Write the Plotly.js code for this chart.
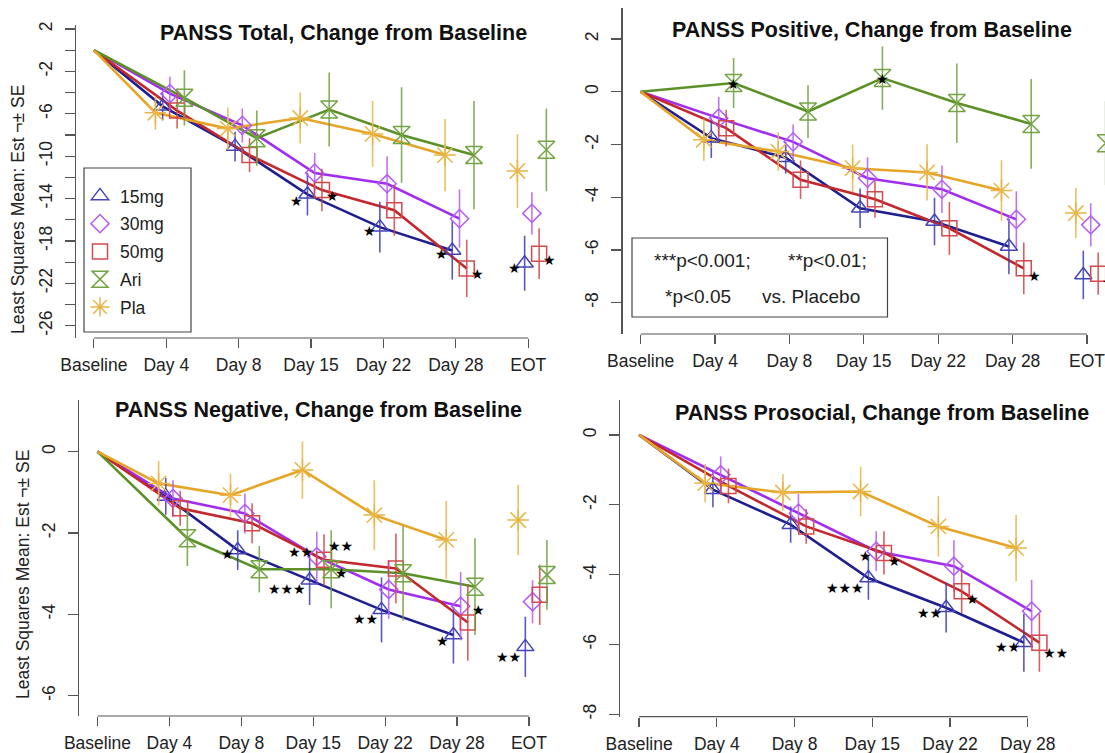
<!DOCTYPE html>
<html><head><meta charset="utf-8">
<script src="https://cdn.plot.ly/plotly-3.0.1.min.js"></script>
<style>html,body{margin:0;padding:0;background:#fff;overflow:hidden}#wrap{width:1105px;height:753px;overflow:hidden;position:relative}#chart{width:1140px;height:753px}</style>
</head><body><div id="wrap"><div id="chart"></div></div>
<script>
// ---------------- DATA ----------------
const categories = ['Baseline', 'Day 4', 'Day 8', 'Day 15', 'Day 22', 'Day 28', 'EOT'];
const categoriesProsocial = ['Baseline', 'Day 4', 'Day 8', 'Day 15', 'Day 22', 'Day 28'];
const seriesNames = ['15mg', '30mg', '50mg', 'Ari', 'Pla'];

// PANSS Total (Baseline, Day 4, 8, 15, 22, 28, EOT); SE for post-baseline visits
const total_15mg = [0, -5.3, -9.1, -13.6, -16.7, -18.9, -20.1];
const total_15mg_se = [1.3, 1.4, 2.0, 2.4, 2.75, 2.6];
const total_30mg = [0, -4.1, -7.1, -11.6, -12.6, -15.9, -15.4];
const total_30mg_se = [1.6, 1.6, 1.9, 2.6, 2.75, 2.0];
const total_50mg = [0, -5.7, -9.9, -13.2, -15.1, -20.6, -19.2];
const total_50mg_se = [1.7, 1.6, 2.0, 2.4, 2.7, 2.4];
const total_ari = [0, -4.5, -8.3, -5.6, -8.0, -9.9, -9.4];
const total_ari_se = [2.6, 2.6, 3.5, 4.5, 5.1, 3.9];
const total_pla = [0, -5.9, -7.4, -6.4, -7.9, -9.9, -11.4];
const total_pla_se = [1.6, 2.0, 2.4, 3.1, 3.4, 3.5];

// PANSS Positive
const pos_15mg = [0, -1.76, -2.5, -4.42, -4.92, -5.87, -6.95];
const pos_15mg_se = [0.75, 0.6, 0.75, 0.9, 1.05, 0.92];
const pos_30mg = [0, -1.0, -1.9, -3.28, -3.7, -4.84, -5.05];
const pos_30mg_se = [0.8, 0.66, 0.8, 0.9, 1.07, 0.82];
const pos_50mg = [0, -1.38, -3.34, -4.08, -5.18, -6.7, -6.9];
const pos_50mg_se = [0.7, 0.73, 0.7, 1.0, 0.98, 0.8];
const pos_ari = [0, 0.33, -0.75, 0.52, -0.43, -1.22, -1.95];
const pos_ari_se = [0.95, 1.0, 1.2, 1.5, 1.7, 1.6];
const pos_pla = [0, -1.82, -2.27, -2.9, -3.06, -3.75, -4.6];
const pos_pla_se = [0.8, 0.73, 0.9, 1.07, 1.15, 0.95];

// PANSS Negative
const neg_15mg = [0, -1.1, -2.42, -3.16, -3.89, -4.51, -4.8];
const neg_15mg_se = [0.45, 0.49, 0.61, 0.8, 0.7, 0.74];
const neg_30mg = [0, -1.15, -1.52, -2.58, -3.39, -3.8, -3.69];
const neg_30mg_se = [0.45, 0.49, 0.61, 0.72, 0.84, 0.53];
const neg_50mg = [0, -1.39, -1.76, -2.66, -2.87, -4.2, -3.52];
const neg_50mg_se = [0.43, 0.49, 0.63, 0.86, 0.94, 0.74];
const neg_ari = [0, -2.13, -2.89, -2.89, -2.99, -3.32, -3.03];
const neg_ari_se = [0.68, 0.57, 0.96, 1.17, 1.19, 0.86];
const neg_pla = [0, -0.78, -1.07, -0.45, -1.56, -2.17, -1.68];
const neg_pla_se = [0.55, 0.53, 0.7, 0.86, 0.96, 0.86];

// PANSS Prosocial (no EOT, no Ari)
const pro_15mg = [0, -1.57, -2.57, -4.1, -4.95, -5.95];
const pro_15mg_se = [0.5, 0.52, 0.62, 0.71, 0.83];
const pro_30mg = [0, -1.14, -2.24, -3.33, -3.76, -5.05];
const pro_30mg_se = [0.52, 0.55, 0.57, 0.74, 0.9];
const pro_50mg = [0, -1.46, -2.62, -3.38, -4.48, -5.95];
const pro_50mg_se = [0.5, 0.5, 0.62, 0.62, 0.83];
const pro_pla = [0, -1.38, -1.65, -1.62, -2.62, -3.24];
const pro_pla_se = [0.55, 0.52, 0.71, 0.86, 0.95];

// y tick values / labels
const total_yticks = [2, 0, -2, -4, -6, -8, -10, -12, -14, -16, -18, -20, -22, -24, -26];
const total_ylabels = ['2', '', '-2', '', '-6', '', '-10', '', '-14', '', '-18', '', '-22', '', '-26'];
const pos_yticks = [2, 0, -2, -4, -6, -8];
const pos_ylabels = ['2', '0', '-2', '-4', '-6', '-8'];
const neg_yticks = [0, -2, -4, -6];
const neg_ylabels = ['0', '-2', '-4', '-6'];
const pro_yticks = [0, -2, -4, -6, -8];
const pro_ylabels = ['0', '-2', '-4', '-6', '-8'];

// significance vs placebo
const total_sig_day = ['Day 15', 'Day 15', 'Day 22', 'Day 28', 'Day 28', 'EOT', 'EOT'];
const total_sig_series = ['15mg', '50mg', '15mg', '15mg', '50mg', '15mg', '50mg'];
const total_sig_label = ['*', '*', '*', '*', '*', '*', '*'];
const pos_sig_day = ['Day 4', 'Day 15', 'Day 28', 'EOT'];
const pos_sig_series = ['Ari', 'Ari', '50mg', '50mg'];
const pos_sig_label = ['*', '*', '*', '*'];
const neg_sig_day = ['Day 8', 'Day 15', 'Day 15', 'Day 15', 'Day 15', 'Day 22', 'Day 28', 'Day 28', 'EOT'];
const neg_sig_series = ['15mg', '15mg', '30mg', '50mg', 'Ari', '15mg', '15mg', '50mg', '15mg'];
const neg_sig_label = ['*', '***', '**', '**', '*', '**', '*', '*', '**'];
const pro_sig_day = ['Day 15', 'Day 15', 'Day 15', 'Day 22', 'Day 22', 'Day 28', 'Day 28'];
const pro_sig_series = ['30mg', '50mg', '15mg', '15mg', '50mg', '15mg', '50mg'];
const pro_sig_label = ['*', '*', '***', '**', '*', '**', '**'];

// ---------------- PLACEMENT / STYLE ----------------
const total_sig_side = ['L', 'R', 'L', 'L', 'R', 'L', 'R'], total_sig_dy = [7, 6, 4, 4, 6, 5, 6];
const pos_sig_side = ['C', 'C', 'R', 'R'], pos_sig_dy = [1, 1, 8, 8];
const neg_sig_side = ['L', 'L', 'L', 'R', 'R', 'L', 'L', 'R', 'L'], neg_sig_dy = [4, 9, -5, -14, 4, 9, 6, -12, 10];
const pro_sig_side = ['L', 'R', 'L', 'L', 'R', 'L', 'R'], pro_sig_dy = [5, 8, 10, 5, 8, 4, 10];

const W = 1140, H = 753;   // figure is wider than the 1105px window; the right edge is cropped like the source
const FONT = 'Liberation Sans, Arial, Helvetica, sans-serif';
const off = { '15mg': -0.05, '30mg': 0.05, '50mg': 0.15, 'Ari': 0.25, 'Pla': -0.15 };
const sty = {
  '15mg': { line: '#1f1f8f', mk: '#4444b8', err: 'rgba(60,60,175,0.85)', sym: 'triangle-up-open', size: 15 },
  '30mg': { line: '#a12df0', mk: '#b45cf2', err: 'rgba(180,92,242,0.85)', sym: 'diamond-open', size: 14 },
  '50mg': { line: '#c3282c', mk: '#d24a4d', err: 'rgba(205,70,72,0.85)', sym: 'square-open', size: 15 },
  'Ari':  { line: '#5b9127', mk: '#74a444', err: 'rgba(110,160,65,0.85)', sym: 'hourglass-open', size: 17 },
  'Pla':  { line: '#e6a526', mk: '#e9b547', err: 'rgba(232,180,70,0.85)', sym: 'asterisk-open', size: 18 }
};

const panels = [
  { title: 'PANSS Total, Change from Baseline', cats: categories, series: seriesNames,
    vals: { '15mg': total_15mg, '30mg': total_30mg, '50mg': total_50mg, 'Ari': total_ari, 'Pla': total_pla },
    se: { '15mg': total_15mg_se, '30mg': total_30mg_se, '50mg': total_50mg_se, 'Ari': total_ari_se, 'Pla': total_pla_se },
    yt: total_yticks, ytl: total_ylabels,
    sig: { day: total_sig_day, series: total_sig_series, label: total_sig_label, side: total_sig_side, dy: total_sig_dy },
    box: { l: 76, r: 560.7, t: 25, b: 338 }, xr: [-0.247, 6.448], yr: [-27.16, 2.377],
    tpos: [343, 33], ytitle: [18, 210] },
  { title: 'PANSS Positive, Change from Baseline', cats: categories, series: seriesNames,
    vals: { '15mg': pos_15mg, '30mg': pos_30mg, '50mg': pos_50mg, 'Ari': pos_ari, 'Pla': pos_pla },
    se: { '15mg': pos_15mg_se, '30mg': pos_30mg_se, '50mg': pos_50mg_se, 'Ari': pos_ari_se, 'Pla': pos_pla_se },
    yt: pos_yticks, ytl: pos_ylabels,
    sig: { day: pos_sig_day, series: pos_sig_series, label: pos_sig_label, side: pos_sig_side, dy: pos_sig_dy },
    box: { l: 622.6, r: 1140, t: 8.3, b: 334 }, xr: [-0.242, 6.712], yr: [-9.19, 3.166],
    tpos: [872, 30], ytitle: null },
  { title: 'PANSS Negative, Change from Baseline', cats: categories, series: seriesNames,
    vals: { '15mg': neg_15mg, '30mg': neg_30mg, '50mg': neg_50mg, 'Ari': neg_ari, 'Pla': neg_pla },
    se: { '15mg': neg_15mg_se, '30mg': neg_30mg_se, '50mg': neg_50mg_se, 'Ari': neg_ari_se, 'Pla': neg_pla_se },
    yt: neg_yticks, ytl: neg_ylabels,
    sig: { day: neg_sig_day, series: neg_sig_series, label: neg_sig_label, side: neg_sig_side, dy: neg_sig_dy },
    box: { l: 79.3, r: 561, t: 400, b: 716 }, xr: [-0.253, 6.446], yr: [-6.5, 1.271],
    tpos: [318, 410], ytitle: [23, 575] },
  { title: 'PANSS Prosocial, Change from Baseline', cats: categoriesProsocial, series: ['15mg', '30mg', '50mg', 'Pla'],
    vals: { '15mg': pro_15mg, '30mg': pro_30mg, '50mg': pro_50mg, 'Pla': pro_pla },
    se: { '15mg': pro_15mg_se, '30mg': pro_30mg_se, '50mg': pro_50mg_se, 'Pla': pro_pla_se },
    yt: pro_yticks, ytl: pro_ylabels,
    sig: { day: pro_sig_day, series: pro_sig_series, label: pro_sig_label, side: pro_sig_side, dy: pro_sig_dy },
    box: { l: 619.8, r: 1140, t: 400, b: 716.7 }, xr: [-0.248, 6.444], yr: [-8.07, 1.0],
    tpos: [882, 413], ytitle: null }
];

const traces = [], annotations = [], shapes = [];
const layout = {
  width: W, height: H, margin: { l: 0, r: 0, t: 0, b: 0 }, paper_bgcolor: '#fff', plot_bgcolor: 'rgba(0,0,0,0)',
  showlegend: true,
  legend: { x: 80 / W, y: 1 - 178 / H, xanchor: 'left', yanchor: 'top', bgcolor: 'rgba(0,0,0,0)', borderwidth: 0,
    font: { family: FONT, size: 17.5, color: '#222' }, traceorder: 'grouped', tracegroupgap: 2 },
  font: { family: FONT, color: '#222' }
};

panels.forEach((p, pi) => {
  const sfx = pi === 0 ? '' : String(pi + 1);
  const xa = 'x' + sfx, ya = 'y' + sfx;
  const lastLine = Math.min(5, p.cats.length - 1);
  p.series.forEach(s => {
    const v = p.vals[s];
    const xs = [], ys = [];
    for (let i = 0; i <= lastLine; i++) { xs.push(i === 0 ? 0 : i + off[s]); ys.push(v[i]); }
    traces.push({ type: 'scatter', mode: 'lines', x: xs, y: ys, xaxis: xa, yaxis: ya,
      line: { color: sty[s].line, width: 2.6 }, showlegend: false, hoverinfo: 'skip', cliponaxis: false });
  });
  p.series.forEach(s => {
    const v = p.vals[s];
    const xs = [], ys = [];
    for (let i = 1; i < v.length; i++) { xs.push(i + off[s]); ys.push(v[i]); }
    traces.push({ type: 'scatter', mode: 'markers', name: s, x: xs, y: ys, xaxis: xa, yaxis: ya,
      marker: { symbol: sty[s].sym, size: sty[s].size, color: sty[s].mk, line: { color: sty[s].mk, width: 1.5 } },
      error_y: { type: 'data', array: p.se[s], visible: true, width: 0, thickness: 1.6, color: sty[s].err },
      showlegend: pi === 0, legendgroup: s, cliponaxis: false });
  });
  layout['xaxis' + sfx] = { domain: [p.box.l / W, p.box.r / W], range: p.xr, anchor: ya,
    tickvals: p.cats.map((c, i) => i), ticktext: p.cats, ticks: 'outside', ticklen: 9, tickwidth: 1.2, tickcolor: '#555',
    showline: false, showgrid: false, zeroline: false, ticklabelstandoff: 2, ticklabeloverflow: 'allow',
    tickfont: { family: FONT, size: 17.5, color: '#222' }, fixedrange: true };
  layout['yaxis' + sfx] = { domain: [1 - p.box.b / H, 1 - p.box.t / H], range: p.yr, anchor: xa,
    tickvals: p.yt, ticktext: p.ytl, tickangle: -90, ticks: 'outside', ticklen: 10, tickwidth: 1.2, tickcolor: '#555',
    showline: true, linecolor: '#555', linewidth: 1.2, showgrid: false, zeroline: false, ticklabelstandoff: 6,
    ticklabeloverflow: 'allow', tickfont: { family: FONT, size: 17.5, color: '#222' }, fixedrange: true };
  shapes.push({ type: 'line', xref: xa, yref: ya + ' domain', x0: 0, x1: p.cats.length - 1, y0: 0, y1: 0,
    line: { color: '#555', width: 1.2 } });
  annotations.push({ xref: 'paper', yref: 'paper', x: p.tpos[0] / W, y: 1 - p.tpos[1] / H, xanchor: 'center', yanchor: 'middle',
    text: '<b>' + p.title + '</b>', showarrow: false, font: { family: FONT, size: 21.5, color: '#111' } });
  if (p.ytitle) annotations.push({ xref: 'paper', yref: 'paper', x: p.ytitle[0] / W, y: 1 - p.ytitle[1] / H,
    xanchor: 'center', yanchor: 'middle', textangle: -90, text: 'Least Squares Mean: Est ¬± SE', showarrow: false,
    font: { family: FONT, size: 17.5, color: '#222' } });
  p.sig.day.forEach((d, k) => {
    const s = p.sig.series[k], i = p.cats.indexOf(d), side = p.sig.side[k];
    annotations.push({ xref: xa, yref: ya, x: i + off[s], y: p.vals[s][i], showarrow: false,
      text: p.sig.label[k].replace(/\*/g, '★'),
      xanchor: side === 'L' ? 'right' : side === 'R' ? 'left' : 'center',
      xshift: side === 'L' ? -2 : side === 'R' ? 2 : 0, yshift: -p.sig.dy[k],
      font: { family: 'DejaVu Sans', size: 14, color: '#000' } });
  });
});

// legend frame (panel 1) and significance key (panel 2)
shapes.push({ type: 'rect', xref: 'paper', yref: 'paper', x0: 84 / W, x1: 191 / W, y0: 1 - 332 / H, y1: 1 - 168 / H,
  line: { color: '#444', width: 1.2 }, fillcolor: 'rgba(0,0,0,0)' });
shapes.push({ type: 'rect', xref: 'paper', yref: 'paper', x0: 632 / W, x1: 887.5 / W, y0: 1 - 317 / H, y1: 1 - 238 / H,
  line: { color: '#444', width: 1.2 }, fillcolor: 'rgba(0,0,0,0)' });
const keyText = [['***p<0.001;', 652, 260], ['**p<0.01;', 786, 260], ['*p<0.05', 663, 296], ['vs. Placebo', 760, 296]];
keyText.forEach(k => annotations.push({ xref: 'paper', yref: 'paper', x: k[1] / W, y: 1 - k[2] / H, xanchor: 'left', yanchor: 'middle',
  text: k[0], showarrow: false, font: { family: FONT, size: 19, color: '#222' } }));

layout.annotations = annotations;
layout.shapes = shapes;
Plotly.newPlot('chart', traces, layout, { staticPlot: true, displayModeBar: false });
</script></body></html>
